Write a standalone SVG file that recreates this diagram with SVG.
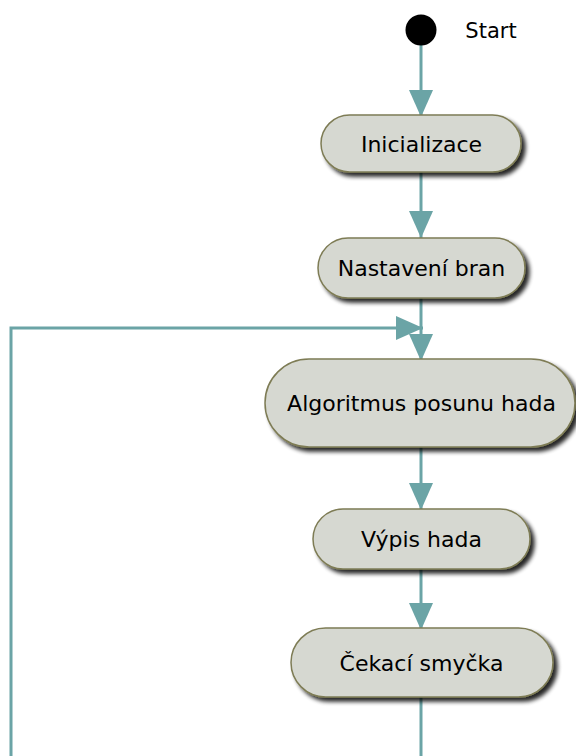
<svg xmlns="http://www.w3.org/2000/svg" width="576" height="756" viewBox="0 0 576 756">
<style>
.node rect{fill:#D6D8D1;stroke:#7E7C55;stroke-width:1.5;filter:url(#sh)}
.node text{font-family:"DejaVu Sans",Verdana,sans-serif;font-size:22px;fill:#000;text-anchor:middle}
.conn path{fill:none;stroke:#6BA4A6;stroke-width:3;marker-end:url(#ah)}
.conn path.plain{marker-end:none}
</style>
<defs>
<filter id="sh" x="-20%" y="-30%" width="140%" height="170%">
<feGaussianBlur in="SourceAlpha" stdDeviation="2"/>
<feOffset dx="4" dy="4" result="b"/>
<feComponentTransfer><feFuncA type="linear" slope="0.85"/></feComponentTransfer>
<feMerge><feMergeNode/><feMergeNode in="SourceGraphic"/></feMerge>
</filter>
<marker id="ah" markerUnits="userSpaceOnUse" markerWidth="28" markerHeight="24" refX="27" refY="12" orient="auto" viewBox="0 0 28 24">
<path d="M0,0 L27,12 L0,24 Z" fill="#6BA4A6"/>
</marker>
</defs>
<g id="connectors" class="conn">
<path d="M421,45 V117"/>
<path d="M421,172 V238"/>
<path d="M421,298 V361"/>
<path d="M421,447 V510"/>
<path d="M421,569 V630"/>
<path class="plain" d="M421,697 V760"/>
<path d="M11,760 V328 H423"/>
</g>
<g id="start" class="node">
<circle cx="421" cy="30" r="15.5" fill="#000"/>
<text x="491" y="38" style="font-size:21px">Start</text>
</g>
<g id="inicializace" class="node">
<rect x="321" y="115" width="200" height="57" rx="28.5"/>
<text x="421.5" y="152">Inicializace</text>
</g>
<g id="nastaveni" class="node">
<rect x="318" y="238" width="207" height="60" rx="30"/>
<text x="421.5" y="276">Nastavení bran</text>
</g>
<g id="algoritmus" class="node">
<rect x="265" y="359" width="310" height="88" rx="44"/>
<text x="421.5" y="411">Algoritmus posunu hada</text>
</g>
<g id="vypis" class="node">
<rect x="313" y="509" width="217" height="60" rx="30"/>
<text x="421.5" y="547">Výpis hada</text>
</g>
<g id="cekaci" class="node">
<rect x="291" y="628" width="262" height="69" rx="34.5"/>
<text x="421.5" y="671">Čekací smyčka</text>
</g>
</svg>
